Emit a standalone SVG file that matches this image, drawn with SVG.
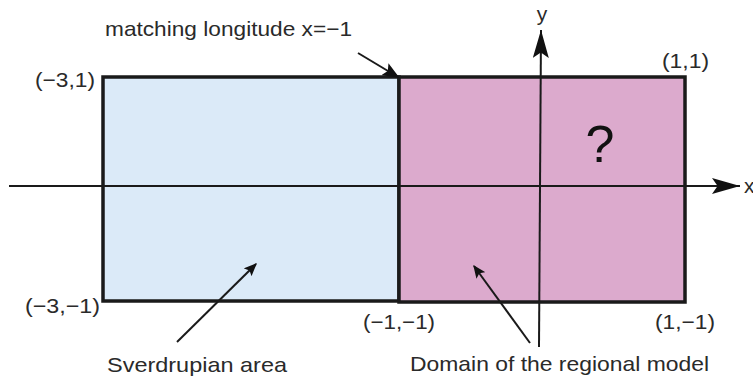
<svg xmlns="http://www.w3.org/2000/svg" width="753" height="380" viewBox="0 0 753 380">
<defs>
<style>
text{font-family:"Liberation Sans",Arial,sans-serif;font-size:21px;fill:#2a2a2a}
.ln{stroke:#1a1a1a;stroke-width:2;fill:none}
.box{stroke:#1a1a1a;stroke-width:3.5}
</style>
<marker id="ah" viewBox="0 0 10 10" refX="9" refY="5" markerWidth="13" markerHeight="11" orient="auto" markerUnits="userSpaceOnUse" preserveAspectRatio="none"><path d="M0,0 L10,5 L0,10 L2,5 z" fill="#111"/></marker>
<marker id="ahb" viewBox="0 0 10 10" refX="9" refY="5" markerWidth="17" markerHeight="14" orient="auto" markerUnits="userSpaceOnUse" preserveAspectRatio="none"><path d="M0,0 L10,5 L0,10 L2,5 z" fill="#111"/></marker>
<marker id="axh" viewBox="0 0 10 10" refX="10" refY="5" markerWidth="28" markerHeight="16" orient="auto" markerUnits="userSpaceOnUse" preserveAspectRatio="none"><path d="M0,0 L10,5 L0,10 L2,5 z" fill="#111"/></marker>
</defs>
<rect width="753" height="380" fill="#fff"/>
<g id="sverdrup-area"><rect class="box" x="103" y="77" width="296" height="224" fill="#dbeaf8"/></g>
<g id="regional-domain"><rect class="box" x="399" y="77" width="286" height="225" fill="#dcaacd"/><text x="600" y="162" text-anchor="middle" style="font-size:52px;fill:#111">?</text></g>
<g id="connectors">
<line class="ln" x1="9" y1="186" x2="740" y2="186" marker-end="url(#axh)"/>
<line class="ln" x1="539" y1="347" x2="541" y2="30" marker-end="url(#axh)"/>
<line class="ln" x1="358" y1="53" x2="398" y2="77" marker-end="url(#ahb)" stroke-width="2.8"/>
<line class="ln" x1="177" y1="342" x2="256" y2="264" marker-end="url(#ah)"/>
<line class="ln" x1="530" y1="343" x2="474" y2="266" marker-end="url(#ah)"/>
</g>
<g id="labels">
<text x="105" y="36" textLength="247" lengthAdjust="spacingAndGlyphs">matching longitude x=−1</text>
<text x="542" y="21" text-anchor="middle">y</text>
<text x="744" y="193">x</text>
<text x="35" y="87" textLength="60" lengthAdjust="spacingAndGlyphs">(−3,1)</text>
<text x="662" y="68" textLength="47" lengthAdjust="spacingAndGlyphs">(1,1)</text>
<text x="25" y="313" textLength="75" lengthAdjust="spacingAndGlyphs">(−3,−1)</text>
<text x="363" y="329" textLength="72" lengthAdjust="spacingAndGlyphs">(−1,−1)</text>
<text x="655" y="329" textLength="60" lengthAdjust="spacingAndGlyphs">(1,−1)</text>
<text x="107" y="372" textLength="180" lengthAdjust="spacingAndGlyphs">Sverdrupian area</text>
<text x="410" y="371" textLength="299" lengthAdjust="spacingAndGlyphs">Domain of the regional model</text>
</g>
</svg>
